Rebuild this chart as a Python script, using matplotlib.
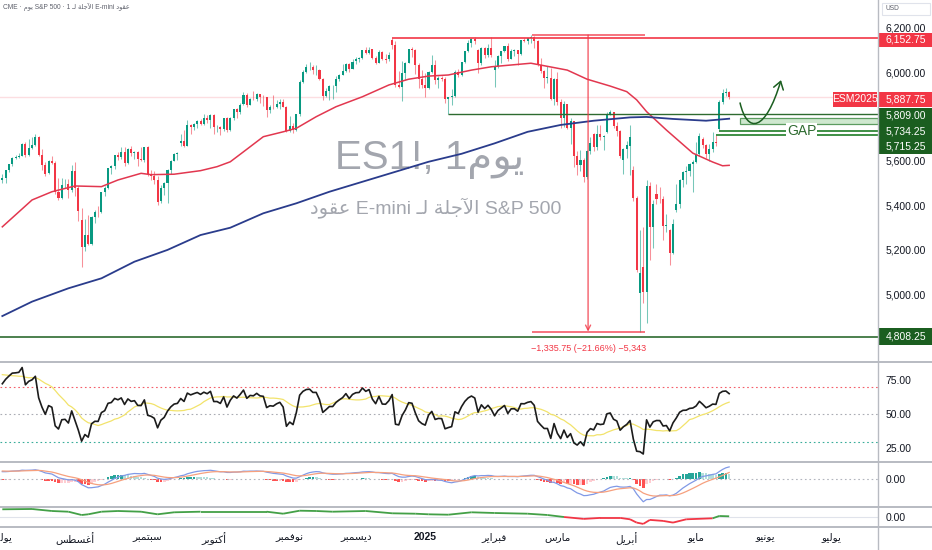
import numpy as np
import pandas as pd
import matplotlib
matplotlib.use('Agg')
import matplotlib.pyplot as plt
import matplotlib.transforms as mtransforms
from matplotlib.path import Path
from matplotlib.patches import FancyArrowPatch, Rectangle
from matplotlib.lines import Line2D
from matplotlib.collections import LineCollection

plt.rcParams['font.family'] = ['Liberation Sans', 'DejaVu Sans']

# ---------------------------------------------------------------- data
# ES1! daily bars, 1 Jul 2024 .. 15 May 2025 (bar index 0..220)
opens = [5515, 5524, 5557, 5585, 5614, 5617, 5622, 5677, 5628, 5660, 5672, 5707, 5628, 5583, 5545, 5600, 5591, 5462, 5433, 5495, 5496, 5467,
         5553, 5476, 5335, 5214, 5267, 5226, 5345, 5372, 5369, 5458, 5479, 5566, 5578, 5628, 5617, 5640, 5589, 5655, 5634, 5642, 5607, 5606,
         5661, 5539, 5530, 5512, 5418, 5478, 5502, 5559, 5601, 5630, 5680, 5688, 5668, 5763, 5753, 5766, 5779, 5768, 5791, 5785,
         5806, 5752, 5752, 5742, 5793, 5737, 5792, 5832, 5820, 5856, 5897, 5853, 5880, 5878, 5900, 5888, 5886, 5831, 5843, 5843, 5855, 5864, 5844,
         5735, 5759, 5740, 5809, 5955, 5999, 6023, 6025, 6008, 6008, 5971, 5893, 5914, 5937, 5937, 5967, 5989, 6004, 6037, 6014,
         6049, 6061, 6063, 6100, 6087, 6103, 6063, 6043, 6092, 6057, 6058, 6145, 6121, 5941, 5935, 5998, 6041, 6105, 6101, 6032, 5968,
         5942, 5928, 6002, 6031, 5964, 5972, 5970, 5879, 5887, 5893, 5999, 5985, 6044, 6094, 6130, 6150, 6100, 6040, 6108, 6079, 6110,
         6010, 6028, 6072, 6094, 6117, 6060, 6097, 6098, 6081, 6143, 6142, 6154, 6160, 6140, 6034, 6003, 5974, 5974, 5878,
         5971, 5864, 5792, 5855, 5750, 5778, 5624, 5580, 5606, 5528, 5644, 5723, 5661, 5721, 5708, 5730, 5811, 5820, 5755, 5736, 5605,
         5653, 5665, 5558, 5434, 5005, 5120, 5010, 5485, 5302, 5450, 5430, 5428, 5306, 5290, 5187, 5380, 5404, 5513, 5552, 5555, 5587,
         5594, 5629, 5700, 5673, 5630, 5653, 5685, 5742, 5864, 5905, 5912]
highs = [5540, 5558, 5587, 5617, 5628, 5635, 5679, 5687, 5698, 5708, 5721, 5710, 5654, 5595, 5604, 5622, 5600, 5525, 5522, 5520, 5518, 5582,
         5596, 5485, 5390, 5339, 5357, 5354, 5377, 5396, 5460, 5488, 5569, 5583, 5628, 5640, 5663, 5662, 5659, 5669, 5645, 5645, 5661, 5664,
         5665, 5561, 5555, 5533, 5492, 5503, 5565, 5605, 5636, 5641, 5722, 5740, 5782, 5765, 5770, 5783, 5788, 5813, 5808, 5809,
         5812, 5763, 5757, 5795, 5799, 5798, 5836, 5838, 5861, 5909, 5908, 5883, 5913, 5906, 5902, 5898, 5889, 5851, 5895, 5874, 5879, 5881, 5848,
         5801, 5769, 5810, 5963, 6009, 6037, 6046, 6033, 6031, 6015, 5975, 5930, 5940, 5940, 5984, 5991, 6037, 6041, 6040, 6059,
         6067, 6066, 6101, 6111, 6111, 6106, 6074, 6100, 6094, 6083, 6089, 6152.75, 6140, 6003, 6049, 6044, 6105, 6113, 6104, 6040, 6009,
         5994, 6007, 6077, 6055, 5981, 5982, 5978, 5889, 5922, 6009, 6013, 6047, 6096, 6144, 6155, 6158, 6102, 6114, 6112, 6125, 6158,
         6056, 6076, 6095, 6117, 6133, 6104, 6106, 6100, 6144, 6155, 6155, 6166.5, 6162, 6146, 6064, 6011, 6027, 6017, 5975,
         6001, 5878, 5872, 5858, 5793, 5779, 5644, 5649, 5612, 5650, 5707, 5727, 5762, 5760, 5715, 5819, 5830, 5822, 5775, 5738, 5656,
         5690, 5762, 5575, 5440, 5288, 5300, 5515, 5505, 5422, 5495, 5481, 5440, 5359, 5294, 5338, 5497, 5517, 5555, 5579, 5591, 5606,
         5683, 5724, 5706, 5675, 5676, 5728, 5715.25, 5873, 5924, 5928, 5917]
lows = [5500, 5500, 5552, 5578, 5607, 5612, 5620, 5617, 5622, 5652, 5668, 5620, 5560, 5532, 5540, 5586, 5452, 5424, 5428, 5476, 5432, 5462,
        5440, 5331, 5120, 5195, 5220, 5222, 5322, 5349, 5364, 5440, 5475, 5540, 5565, 5602, 5610, 5578, 5585, 5620, 5609, 5577, 5598, 5594,
        5531, 5513, 5495, 5402, 5412, 5447, 5410, 5540, 5598, 5606, 5668, 5662, 5666, 5722, 5738, 5748, 5760, 5762, 5772, 5748,
        5721, 5728, 5717, 5735, 5732, 5735, 5785, 5795, 5810, 5850, 5845, 5850, 5875, 5870, 5860, 5848, 5796, 5818, 5833, 5840, 5834, 5842, 5732,
        5732, 5724, 5736, 5800, 5950, 5995, 6009, 5990, 5988, 5964, 5875, 5886, 5873, 5880, 5912, 5962, 5985, 6000, 6000, 6012,
        6037, 6045, 6058, 6082, 6083, 6058, 6038, 6040, 6056, 6040, 6052, 6106, 5935, 5928, 5870, 5966, 6040, 6068, 5993, 5930, 5929,
        5888, 5925, 5998, 5945, 5928, 5960, 5859, 5809, 5853, 5888, 5980, 5982, 6040, 6090, 6115, 6128, 5998, 6030, 6063, 6067, 6068,
        5932, 6020, 6040, 6090, 6052, 6058, 6072, 6032, 6079, 6135, 6126, 6133, 6110, 6029, 5997, 5927, 5950, 5875, 5853,
        5851, 5746, 5754, 5743, 5677, 5574, 5536, 5553, 5505, 5520, 5630, 5643, 5649, 5696, 5648, 5726, 5805, 5746, 5713, 5614, 5540,
        5615, 5537, 5420, 5098, 4830.75, 4960, 4870, 5155, 5208, 5407, 5410, 5244, 5280, 5131, 5181, 5370, 5390, 5482, 5494, 5531, 5458,
        5590, 5620, 5660, 5613, 5601, 5640, 5666, 5734.25, 5858, 5893, 5878]
closes = [5524, 5557, 5585, 5614, 5617, 5622, 5677, 5628, 5658, 5672, 5707, 5628, 5583, 5543, 5600, 5591, 5462, 5433, 5493, 5496, 5467, 5553,
          5476, 5375, 5214, 5267, 5226, 5345, 5370, 5369, 5458, 5479, 5566, 5576, 5628, 5617, 5640, 5589, 5653, 5634, 5642, 5607, 5606, 5661,
          5539, 5530, 5512, 5416, 5478, 5502, 5559, 5601, 5630, 5637, 5688, 5668, 5763, 5751, 5766, 5779, 5768, 5791, 5783, 5806,
          5752, 5752, 5742, 5793, 5737, 5792, 5832, 5820, 5854, 5897, 5853, 5880, 5878, 5900, 5888, 5886, 5831, 5843, 5841, 5855, 5864, 5844, 5735,
          5757, 5740, 5809, 5955, 5999, 6021, 6025, 6008, 6008, 5971, 5893, 5914, 5937, 5937, 5967, 5987, 6004, 6037, 6014, 6047,
          6061, 6063, 6100, 6087, 6101, 6063, 6043, 6092, 6057, 6056, 6078, 6121, 5941, 5935, 5998, 6041, 6105, 6101, 6034, 5968, 5942,
          5928, 6000, 6031, 5964, 5972, 5970, 5879, 5887, 5893, 5999, 5985, 6044, 6094, 6130, 6150, 6138, 6040, 6108, 6079, 6110, 6079,
          6028, 6072, 6094, 6117, 6058, 6097, 6098, 6081, 6143, 6142, 6154, 6160, 6140, 6034, 6003, 5974, 5974, 5878, 5971,
          5864, 5792, 5855, 5750, 5780, 5624, 5580, 5606, 5528, 5644, 5679, 5661, 5721, 5708, 5713, 5811, 5820, 5755, 5736, 5623, 5653,
          5673, 5707, 5434, 5110, 5093, 5010, 5485, 5302, 5404, 5430, 5428, 5306, 5313, 5187, 5317, 5404, 5513, 5552, 5555, 5587, 5594,
          5629, 5711, 5673, 5630, 5653, 5685, 5682, 5864, 5905, 5912, 5887.75]
# closes of the weeks before the window (May-Jun 2024), only used to warm up RSI / MACD
prior_closes = [5073, 5119, 5183, 5236, 5242, 5269, 5278, 5277, 5276, 5302, 5363, 5352, 5358, 5363, 5376, 5362, 5323, 5359, 5361,
                5322, 5290, 5333, 5338, 5346, 5409, 5407, 5402, 5416, 5430, 5476, 5488, 5486, 5528, 5542, 5528, 5519, 5503, 5524,
                5533, 5537, 5515]

# moving averages (bar index, price)
sma50_idx = [0, 9, 15, 22, 30, 35, 42, 45, 52, 60, 65, 69, 73, 79, 85, 89, 95, 101, 109, 117, 123, 129, 135, 142, 148, 160,
             171, 177, 184, 189, 192, 195, 201, 209, 215, 218, 220]
sma50_val = [5303, 5424, 5461, 5487, 5484, 5514, 5544, 5538, 5540, 5556, 5574, 5596, 5641, 5709, 5731, 5747, 5799, 5844, 5889,
             5942, 5968, 5982, 5987, 6009, 6024, 6040, 6009, 5968, 5937, 5912, 5875, 5822, 5739, 5635, 5595, 5578, 5580]
sma200_idx = [0, 9, 20, 30, 40, 50, 60, 69, 79, 89, 99, 109, 119, 129, 139, 149, 159, 169, 179, 190, 195, 203, 213, 220]
sma200_val = [4901, 4966, 5026, 5071, 5146, 5199, 5266, 5299, 5364, 5409, 5461, 5506, 5551, 5596, 5632, 5679, 5731, 5762,
              5781, 5796, 5798, 5789, 5781, 5790]

# bottom oscillator
osc_idx = [0, 9, 15, 20, 24, 26, 30, 35, 42, 47, 52, 60, 70, 80, 85, 90, 95, 100, 110, 118, 125, 129, 135, 142, 149, 159,
           165, 170, 176, 181, 187, 190, 192, 194, 196, 200, 203, 207, 215, 217, 220]
osc_val = [8.0, 8.3, 6.3, 5.6, 2.3, 3.0, 5.6, 6.3, 5.6, 3.0, 5.0, 5.6, 5.6, 5.6, 3.6, 6.6, 6.3, 5.6, 6.3, 4.0, 3.6, 3.0, 2.6,
           5.0, 4.3, 3.6, 2.3, 0.3, -1.6, -0.6, -0.6, -2.0, -5.3, -6.6, -2.6, -3.6, -5.3, -2.0, -1.0, 1.3, 1.0]

# levels drawn on the chart
res_level = 6152.75
last_price = 5887.75
support_level = 5809.00
gap_top = 5734.25
gap_bottom = 5715.25
low_level = 4808.25
measure_top = 6166.50
measure_bottom = 4830.75
measure_bars = -5343
zone_top, zone_bottom = 5792, 5765

month_idx = [0, 22, 44, 64, 87, 107, 128, 149, 168, 189, 210, 231, 251]
month_names = ['يوليو', 'أغسطس', 'سبتمبر', 'أكتوبر', 'نوفمبر', 'ديسمبر', '2025', 'فبراير', 'مارس', 'أبريل', 'مايو',
               'يونيو', 'يوليو']
price_ticks = [5000, 5200, 5400, 5600, 6000, 6200]

# ---------------------------------------------------------------- arabic shaping (matplotlib has no bidi)
FORMS = {  # isolated, final, initial, medial
    'ا': ('\uFE8D', '\uFE8E', None, None), 'أ': ('\uFE83', '\uFE84', None, None),
    'آ': ('\uFE81', '\uFE82', None, None), 'ب': ('\uFE8F', '\uFE90', '\uFE91', '\uFE92'),
    'ت': ('\uFE95', '\uFE96', '\uFE97', '\uFE98'), 'ج': ('\uFE9D', '\uFE9E', '\uFE9F', '\uFEA0'),
    'د': ('\uFEA9', '\uFEAA', None, None), 'ر': ('\uFEAD', '\uFEAE', None, None),
    'س': ('\uFEB1', '\uFEB2', '\uFEB3', '\uFEB4'), 'ط': ('\uFEC1', '\uFEC2', '\uFEC3', '\uFEC4'),
    'ع': ('\uFEC9', '\uFECA', '\uFECB', '\uFECC'), 'غ': ('\uFECD', '\uFECE', '\uFECF', '\uFED0'),
    'ف': ('\uFED1', '\uFED2', '\uFED3', '\uFED4'), 'ق': ('\uFED5', '\uFED6', '\uFED7', '\uFED8'),
    'ك': ('\uFED9', '\uFEDA', '\uFEDB', '\uFEDC'), 'ل': ('\uFEDD', '\uFEDE', '\uFEDF', '\uFEE0'),
    'م': ('\uFEE1', '\uFEE2', '\uFEE3', '\uFEE4'), 'ن': ('\uFEE5', '\uFEE6', '\uFEE7', '\uFEE8'),
    'ة': ('\uFE93', '\uFE94', None, None), 'و': ('\uFEED', '\uFEEE', None, None),
    'ي': ('\uFEF1', '\uFEF2', '\uFEF3', '\uFEF4'),
}
LAM_ALEF = {'ا': ('\uFEFB', '\uFEFC'), 'أ': ('\uFEF7', '\uFEF8'), 'آ': ('\uFEF5', '\uFEF6')}
TATWEEL = 'ـ'


def shape_word(word):
    items = []
    i = 0
    while i < len(word):
        if word[i] == 'ل' and i + 1 < len(word) and word[i + 1] in LAM_ALEF:
            items.append(('LA', word[i + 1]))
            i += 2
        else:
            items.append(('C', word[i]))
            i += 1

    def joins_next(it):
        if it[0] == 'LA':
            return False
        if it[1] == TATWEEL:
            return True
        f = FORMS.get(it[1])
        return f is not None and f[2] is not None

    def joins_prev(it):
        return it[0] == 'LA' or it[1] == TATWEEL or it[1] in FORMS

    out = []
    for k, it in enumerate(items):
        a = k > 0 and joins_next(items[k - 1]) and joins_prev(it)
        b = k + 1 < len(items) and joins_next(it) and joins_prev(items[k + 1])
        if it[0] == 'LA':
            out.append(LAM_ALEF[it[1]][1 if a else 0])
        elif it[1] in FORMS:
            iso, fin, ini, med = FORMS[it[1]]
            out.append(med if (a and b) else fin if a else ini if b else iso)
        else:
            out.append(it[1])
    return ''.join(reversed(out))


def ar(text):
    if not any(c in FORMS for c in text):
        return text
    return ' '.join(shape_word(w) for w in reversed(text.split(' ')))


# ---------------------------------------------------------------- indicators
all_close = pd.Series(prior_closes + closes, dtype=float)
n0 = len(prior_closes)
delta = all_close.diff()
gain = delta.clip(lower=0).ewm(alpha=1 / 14, adjust=False).mean()
loss = (-delta.clip(upper=0)).ewm(alpha=1 / 14, adjust=False).mean()
rsi_all = 100 - 100 / (1 + gain / loss)
rsi_ma_all = rsi_all.rolling(14).mean()
macd_all = all_close.ewm(span=12, adjust=False).mean() - all_close.ewm(span=26, adjust=False).mean()
signal_all = macd_all.ewm(span=9, adjust=False).mean()
hist_all = macd_all - signal_all

rsi = rsi_all.iloc[n0:].to_numpy()
rsi_ma = rsi_ma_all.iloc[n0:].to_numpy()
macd = macd_all.iloc[n0:].to_numpy()
signal = signal_all.iloc[n0:].to_numpy()
hist = hist_all.iloc[n0:].to_numpy()
hist_prev = hist_all.shift(1).iloc[n0:].to_numpy()

# ---------------------------------------------------------------- layout
W, H = 932, 550
GREEN, RED = '#089981', '#f23645'
DKGREEN = '#1b5e20'
SEP = '#b8bbc2'
TXT = '#131722'
plot_w = 878 / W
xlim = (-0.7, 265.05)

fig = plt.figure(figsize=(W / 100, H / 100), dpi=100)
ax = fig.add_axes([0, 1 - 361.5 / H, plot_w, 361.5 / H])
ax_rsi = fig.add_axes([0, 1 - 461.5 / H, plot_w, 100 / H])
ax_macd = fig.add_axes([0, 1 - 506.5 / H, plot_w, 45 / H])
ax_osc = fig.add_axes([0, 1 - 526.7 / H, plot_w, 20.2 / H])

for a in (ax, ax_rsi, ax_macd, ax_osc):
    a.set_xlim(*xlim)
    for s in a.spines.values():
        s.set_visible(False)
    a.yaxis.tick_right()
    a.tick_params(axis='y', length=0, pad=5.5, labelsize=7.5, labelcolor=TXT)
    a.tick_params(axis='x', length=0)
    a.set_facecolor('white')
for a in (ax, ax_rsi, ax_macd):
    a.set_xticks([])

# ---------------------------------------------------------------- main panel
ax.set_ylim(4696.3, 6324.8)
ax.set_yticks(price_ticks)
ax.set_yticklabels([f'{v:,.2f}' for v in price_ticks])

x = np.arange(len(closes))
o = np.array(opens, float)
h = np.array(highs, float)
l = np.array(lows, float)
c = np.array(closes, float)
up = c >= o
cols = np.where(up, GREEN, RED)
ax.vlines(x, l, h, colors=cols, lw=0.75, alpha=0.55, zorder=3)
ax.bar(x, np.maximum(np.abs(c - o), 2.0), bottom=np.minimum(o, c), width=0.62, color=cols, zorder=4, linewidth=0)

ax.plot(sma50_idx, sma50_val, color='#e2374f', lw=1.1, zorder=5)
ax.plot(sma200_idx, sma200_val, color='#2a3c8c', lw=1.3, zorder=5)

# watermark
ax.text(129.4, 5604, 'ES1!, 1' + ar('يوم'), fontsize=29, color='#a3a6ae', ha='center', va='center', zorder=1)
ax.text(131.3, 5392, ar('عقود') + ' E-mini ' + ar('لـ') + ' ' + ar('الآجلة') + ' S&P 500', fontsize=14,
        color='#a3a6ae', ha='center', va='center', zorder=1)
ax.text(3 / 878, 1 - 7 / 361.5, 'CME · ' + ar('يوم') + ' S&P 500 · 1 ' + ar('لـ') + ' ' + ar('الآجلة') + ' E-mini ' + ar('عقود'),
        transform=ax.transAxes, fontsize=4.8, color='#5d606b', ha='left', va='center')

# drawings
ax.axhline(last_price, color=RED, lw=1, alpha=0.16, zorder=2)
ax.hlines(res_level, 118, xlim[1], color=RED, lw=1.2, zorder=6)
ax.hlines(support_level, 135, xlim[1], color='#2e6b30', lw=1.0, zorder=6)
ax.hlines(gap_bottom, 216, xlim[1], color='#3f8f45', lw=1.4, zorder=6)
ax.hlines(gap_top, 217, xlim[1], color='#3f8f45', lw=1.4, zorder=6)
ax.text(242, gap_top, 'GAP', fontsize=10, color='#2e6b30', ha='center', va='center', zorder=7,
        bbox=dict(facecolor='white', edgecolor='none', pad=0.6))
ax.axhline(low_level, color='#2e6b30', lw=1.2, zorder=6)
ax.add_patch(Rectangle((223.3, zone_bottom), xlim[1] - 223.3, zone_top - zone_bottom, facecolor='#cfe8cf',
                       edgecolor='#5c9c60', lw=0.9, zorder=6))

# price range tool
ax.hlines([measure_top, measure_bottom], 160.2, 194.5, color=RED, lw=1.3, alpha=0.75, zorder=6)
ax.annotate('', xy=(177.3, measure_bottom), xytext=(177.3, measure_top),
            arrowprops=dict(arrowstyle='->', color=RED, lw=1.0, alpha=0.8, shrinkA=0, shrinkB=0, mutation_scale=9), zorder=6)
diff = measure_bottom - measure_top
ax.text(177.3, 4757, f'\u2212{abs(diff):,.2f} (\u2212{abs(diff) / measure_top * 100:.2f}%) \u2212{abs(measure_bars):,}',
        fontsize=6.5, color=RED, ha='center', va='center', zorder=7)

# expected path arrow
arrow_path = Path([(223.3, 5861), (225.5, 5720), (231.0, 5730), (235.7, 5964)],
                  [Path.MOVETO, Path.CURVE4, Path.CURVE4, Path.CURVE4])
ax.add_patch(FancyArrowPatch(path=arrow_path, arrowstyle='->,head_length=0.45,head_width=0.3', mutation_scale=12,
                             color=DKGREEN, lw=1.1, zorder=7))

# price-scale labels
blend = mtransforms.blended_transform_factory(ax.transAxes, ax.transData)
col_w = 54 / 878
lab_x = 1 + 7.7 / 878


def scale_box(y0, y1, face, x0=1.0, x1=1.0 + col_w):
    ax.add_patch(Rectangle((x0, y0), x1 - x0, y1 - y0, transform=blend, facecolor=face, edgecolor='none',
                           clip_on=False, zorder=20))


def scale_text(y, s, xx=lab_x, ha='left'):
    ax.text(xx, y, s, transform=blend, fontsize=7.5, color='white', ha=ha, va='center', clip_on=False, zorder=21)


scale_box(6114.4, 6174.8, RED)
scale_text(6145, f'{res_level:,.2f}')
scale_box(5844, 5911.7, RED)
scale_text(5878, f'{last_price:,.2f}')
scale_box(5844, 5911.7, RED, x0=832.7 / 878, x1=876.7 / 878)
scale_text(5878, 'ESM2025', xx=854.7 / 878, ha='center')
scale_box(5631, 5839.6, DKGREEN)
scale_text(5805.4, f'{support_level:,.2f}')
scale_text(5731.5, f'{gap_top:,.2f}')
scale_text(5663.9, f'{gap_bottom:,.2f}')
scale_box(4770.7, 4847.3, DKGREEN)
scale_text(4809, f'{low_level:,.2f}')
ax.add_patch(Rectangle((1.0047, 1 - 15 / 361.5), 48 / 878, 12 / 361.5, transform=ax.transAxes, facecolor='white',
                       edgecolor='#e0e3eb', lw=0.8, clip_on=False, zorder=20))
ax.text(1 + 8 / 878, 1 - 8.5 / 361.5, 'USD', transform=ax.transAxes, fontsize=4.8, color='#5d606b', va='center',
        clip_on=False, zorder=21)

# ---------------------------------------------------------------- RSI
ax_rsi.set_ylim(15.3, 88.8)
ax_rsi.set_yticks([25, 50, 75])
ax_rsi.set_yticklabels(['25.00', '50.00', '75.00'])
for lvl, cl in ((70, RED), (50, '#9598a1'), (30, GREEN)):
    ax_rsi.axhline(lvl, color=cl, lw=0.8, ls=(0, (1.5, 2.5)), alpha=0.8)
ax_rsi.plot(x, rsi_ma, color='#f2e36b', lw=0.9)
ax_rsi.plot(x, rsi, color='#1c1c1c', lw=1.2)

# ---------------------------------------------------------------- MACD
lo = np.nanmin(macd) * 1.21
ax_macd.set_ylim(lo, -lo * 17.8 / 27.2)
ax_macd.set_yticks([0])
ax_macd.set_yticklabels(['0.00'])
ax_macd.axhline(0, color='#b2b5be', lw=0.8, ls=(0, (1.5, 2.5)))
hcol = np.where(hist >= 0, np.where(hist >= hist_prev, '#26a69a', '#b2dfdb'),
                np.where(hist <= hist_prev, '#ff5252', '#ffcdd2'))
ax_macd.bar(x, hist, width=0.8, color=hcol, linewidth=0)
ax_macd.plot(x, macd, color='#8099e6', lw=0.9)
ax_macd.plot(x, signal, color='#f6a07e', lw=0.9)

# ---------------------------------------------------------------- bottom oscillator
ax_osc.set_ylim(-9.4, 10.8)
ax_osc.set_yticks([0])
ax_osc.set_yticklabels(['0.00'])
ax_osc.axhline(0, color='#e0e3eb', lw=0.8)
pts = np.column_stack([osc_idx, osc_val])
segs = np.stack([pts[:-1], pts[1:]], axis=1)
seg_col = ['#43a047' if (a + b) / 2 >= 0 else RED for a, b in zip(osc_val[:-1], osc_val[1:])]
ax_osc.add_collection(LineCollection(segs, colors=seg_col, linewidths=1.3))

ax_osc.set_xticks(month_idx)
ax_osc.set_xticklabels([ar(m) for m in month_names])
ax_osc.tick_params(axis='x', labelsize=7.5, labelcolor=TXT, pad=4)
for t in ax_osc.get_xticklabels():
    if t.get_text() == '2025':
        t.set_fontweight('bold')

# ---------------------------------------------------------------- separators
for yy in (361.5, 461.5, 506.5, 526.7):
    fig.add_artist(Line2D([0, 1], [1 - yy / H, 1 - yy / H], color=SEP, lw=1.4))
fig.add_artist(Line2D([plot_w, plot_w], [0, 1], color=SEP, lw=1.0))

fig.savefig('out.png', dpi=100, facecolor='white')
